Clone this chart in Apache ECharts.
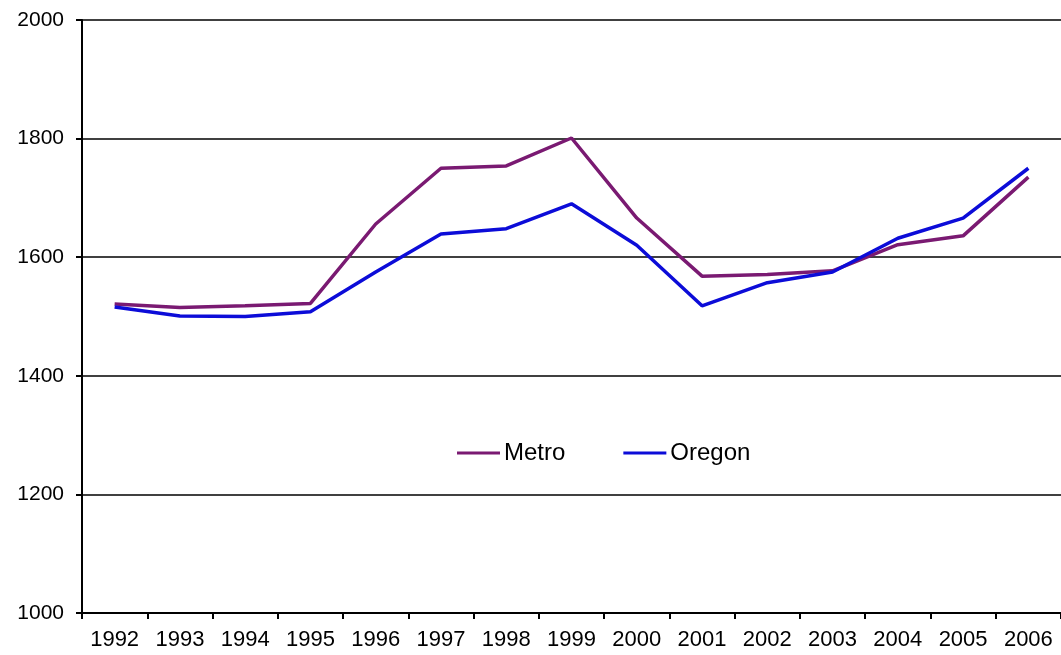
<!DOCTYPE html>
<html>
<head>
<meta charset="utf-8">
<script src="https://cdn.jsdelivr.net/npm/echarts@6/dist/echarts.min.js"></script>
<style>
html,body{margin:0;padding:0;background:#fff;}
#c{width:1061px;height:655px;}
</style>
</head>
<body>
<div id="c"></div>
<script>
const years = ['1992','1993','1994','1995','1996','1997','1998','1999','2000','2001','2002','2003','2004','2005','2006'];
const metro = [1521, 1515, 1518, 1522, 1656, 1750, 1754, 1801, 1666, 1568, 1571, 1577, 1621, 1636, 1735];
const oregon = [1516, 1501, 1500, 1508, 1575, 1639, 1648, 1690, 1620, 1518, 1557, 1575, 1632, 1666, 1750];
const yTicks = [1000, 1200, 1400, 1600, 1800, 2000];

const chart = echarts.init(document.getElementById('c'), null, {renderer: 'canvas'});
const font = 'Liberation Sans, Arial, sans-serif';
chart.setOption({
  backgroundColor: '#ffffff',
  animation: false,
  grid: {left: 82, top: 20, width: 986, height: 593, containLabel: false},
  legend: {
    data: ['Metro', 'Oregon'],
    left: 452, top: 436,
    itemWidth: 43, itemHeight: 3, itemGap: 58,
    icon: 'rect',
    textStyle: {fontFamily: font, fontSize: 24, color: '#000', padding: [0, 0, 0, -1]}
  },
  xAxis: {
    type: 'category',
    data: years,
    boundaryGap: true,
    axisLine: {lineStyle: {color: '#000', width: 2}},
    axisTick: {show: true, inside: false, length: 6, lineStyle: {color: '#000', width: 2}},
    axisLabel: {fontFamily: font, fontSize: 22, color: '#000', margin: 16, interval: 0}
  },
  yAxis: {
    type: 'value',
    min: yTicks[0], max: yTicks[yTicks.length - 1], interval: 200,
    axisLine: {show: true, lineStyle: {color: '#000', width: 2}},
    axisTick: {show: true, length: 6, lineStyle: {color: '#000', width: 2}},
    axisLabel: {fontFamily: font, fontSize: 21, color: '#000', margin: 18, formatter: v => String(v)},
    splitLine: {show: true, lineStyle: {color: '#000', width: 1.5}}
  },
  series: [
    {name: 'Metro', type: 'line', data: metro, symbol: 'none', lineStyle: {color: '#7a1a72', width: 3.5}, itemStyle: {color: '#7a1a72'}},
    {name: 'Oregon', type: 'line', data: oregon, symbol: 'none', lineStyle: {color: '#0c0cd8', width: 3.5}, itemStyle: {color: '#0c0cd8'}}
  ]
});
</script>
</body>
</html>
